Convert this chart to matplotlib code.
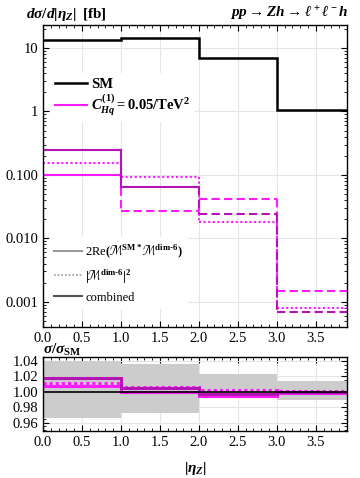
import matplotlib
matplotlib.use("Agg")
import matplotlib.pyplot as plt
import numpy as np
from matplotlib.lines import Line2D
from matplotlib.ticker import FixedLocator, MultipleLocator, LogLocator, NullFormatter

plt.rcParams["font.family"] = "Liberation Serif"
plt.rcParams["mathtext.fontset"] = "custom"
plt.rcParams["mathtext.rm"] = "Liberation Serif:bold"
plt.rcParams["mathtext.it"] = "Liberation Serif:italic:bold"
plt.rcParams["mathtext.bf"] = "Liberation Serif:bold"

# bin edges in |eta_Z|
edges = [0.0, 1.0, 2.0, 3.0, 4.0]

# d sigma / d|eta_Z| [fb], signed contributions
sm = [13.4, 14.2, 6.9, 1.05]
interf = [0.099, -0.027, -0.042, -0.0015]
square = [0.156, 0.092, 0.018, 0.00081]
combined = [0.25, 0.0655, -0.024, -0.0007]

# ratio panel
ratio_interf = [1.0077, 0.9992, 0.9940, 0.9986]
ratio_square = [1.0114, 1.0066, 1.0027, 1.0008]
ratio_comb = [1.0182, 1.0046, 0.9966, 0.9993]
band_up = [1.040, 1.036, 1.023, 1.0136]
band_lo = [0.966, 0.973, 0.993, 0.9895]

top_ticks = [10, 1, 0.1, 0.01, 0.001]
top_labels = ["10", "1", "0.100", "0.010", "0.001"]
ratio_ticks = [0.96, 0.98, 1.00, 1.02, 1.04]

MAG = "#ff1aff"
DMAG = "#b414b4"
GRID = "#e6e6e6"


def draw_steps(ax, vals, color, style, lw):
    # negative contributions are drawn as |value| with a dashed line
    prev = None
    for i, v in enumerate(vals):
        ls = style if v > 0 else (0, (4, 2))
        a = abs(v)
        ax.plot([edges[i], edges[i + 1]], [a, a], color=color, ls=ls, lw=lw)
        if prev is not None:
            ax.plot([edges[i], edges[i]], [prev, a], color=color, ls=ls, lw=lw)
        prev = a


def style_axis(ax):
    ax.tick_params(which="both", direction="in", top=True, right=True,
                   labelsize=10.5)
    ax.tick_params(which="major", length=4)
    ax.tick_params(which="minor", length=2)
    ax.xaxis.set_major_locator(MultipleLocator(0.5))
    ax.xaxis.set_minor_locator(MultipleLocator(0.1))
    ax.xaxis.set_major_formatter(plt.FormatStrFormatter("%.1f"))
    for s in ax.spines.values():
        s.set_linewidth(1.0)
    ax.grid(True, which="major", color=GRID, lw=0.8)
    ax.set_axisbelow(True)


fig = plt.figure(figsize=(3.6, 4.78), dpi=100)
ax = fig.add_axes([0.1194, 0.3159, 0.8445, 0.6318])
axr = fig.add_axes([0.1194, 0.0983, 0.8445, 0.1548])

# top panel
ax.set_yscale("log")
ax.stairs(sm, edges, color="black", lw=1.8, baseline=None)
draw_steps(ax, interf, MAG, "-", 1.5)
draw_steps(ax, square, MAG, (0, (1, 1.2)), 1.5)
draw_steps(ax, combined, DMAG, "-", 1.5)
ax.set_xlim(0, 3.9)
ax.set_ylim(4e-4, 23)
style_axis(ax)
ax.yaxis.set_major_locator(FixedLocator(top_ticks))
ax.yaxis.set_major_formatter(plt.FixedFormatter(top_labels))
ax.yaxis.set_minor_locator(LogLocator(base=10, subs=np.arange(2, 10)))
ax.yaxis.set_minor_formatter(NullFormatter())

h1 = [Line2D([], [], color="black", lw=1.8),
      Line2D([], [], color=MAG, lw=1.5)]
leg1 = ax.legend(h1, ["SM", r"$C_{Hq}^{(1)} = 0.05/\mathrm{TeV}^2$"],
                 loc="upper left", bbox_to_anchor=(0.0, 0.865), frameon=True,
                 framealpha=1, edgecolor="none",
                 handlelength=2.2, handletextpad=0.3, labelspacing=0.15,
                 borderpad=0.3, prop={"weight": "bold", "size": 10.5})
ax.add_artist(leg1)
h2 = [Line2D([], [], color="#9a9a9a", lw=1.5),
      Line2D([], [], color="#9a9a9a", lw=1.2, ls=(0, (1, 1.2))),
      Line2D([], [], color="#555555", lw=1.5)]
ax.legend(h2, [r"2Re$(\mathcal{M}^{\rm SM*}\mathcal{M}^{\rm dim\text{-}6})$",
               r"$|\mathcal{M}^{\rm dim\text{-}6}|^2$", "combined"],
          loc="lower left", bbox_to_anchor=(0.0, 0.04), frameon=True,
          framealpha=1, edgecolor="none", fontsize=9,
          handlelength=2.2, handletextpad=0.3, labelspacing=0.55)

fig.text(0.072, 0.97, r"$d\sigma/d|\eta_Z|\;\;[\rm fb]$", fontsize=11,
         ha="left", va="center")
fig.text(0.967, 0.97, r"$pp \rightarrow Zh \rightarrow \ell^+\ell^- h$",
         fontsize=11, ha="right", va="center")

# ratio panel
axr.stairs(band_up, edges, baseline=band_lo, fill=True, color="#cccccc",
           lw=0)
axr.axhline(1.0, color="black", lw=1.2)
axr.stairs(ratio_interf, edges, color=MAG, lw=2.2, baseline=None)
axr.stairs(ratio_square, edges, color=MAG, lw=2.2, ls=(0, (1, 1)),
           baseline=None)
axr.stairs(ratio_comb, edges, color=DMAG, lw=2.2, baseline=None)
axr.set_xlim(0, 3.9)
axr.set_ylim(0.949, 1.045)
style_axis(axr)
axr.yaxis.set_major_locator(FixedLocator(ratio_ticks))
axr.yaxis.set_minor_locator(MultipleLocator(0.005))
axr.yaxis.set_major_formatter(plt.FormatStrFormatter("%.2f"))
axr.set_xlabel(r"$|\eta_Z|$", fontsize=11, labelpad=8)
fig.text(0.12, 0.268, r"$\sigma/\sigma_{\rm SM}$", fontsize=11,
         ha="left", va="center")

fig.savefig("out.png", dpi=100)
